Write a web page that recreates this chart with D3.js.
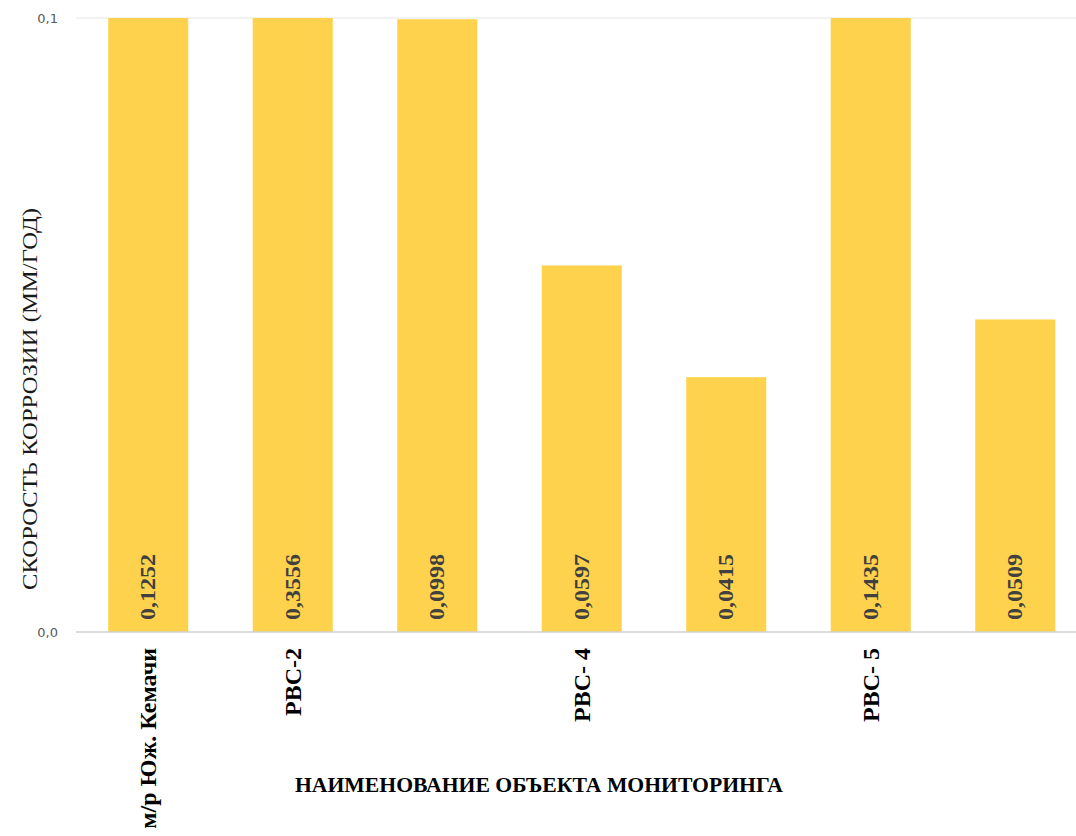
<!DOCTYPE html>
<html lang="ru">
    <head>
        <meta charset="utf-8" />
        <title>Скорость коррозии</title>
        <script src="https://d3js.org/d3.v7.min.js"></script>
        <style>
            html, body { margin:0; padding:0; overflow:hidden; background-color:#ffffff }
            svg { display:block }
        </style>
    </head>
    <body>
        <svg id="svg" width="1076" height="836"></svg>
        <script>

            // data
            let categories = ["м/р Юж. Кемачи", "РВС-2", "", "РВС- 4", "", "РВС- 5", ""];
            let values = [0.1252, 0.3556, 0.0998, 0.0597, 0.0415, 0.1435, 0.0509];
            let valueLabels = ["0,1252", "0,3556", "0,0998", "0,0597", "0,0415", "0,1435", "0,0509"];
            let yTicks = [0, 0.1];
            let yTickLabels = ["0,0", "0,1"];

            let svg = d3.select("svg");
            let plotLeft = 76, plotTop = 18, plotBottom = 632;
            let step = 144.5;

            let x = d3.scaleBand()
                .domain(d3.range(values.length))
                .range([plotLeft, plotLeft + step * values.length])
                .paddingInner(0.446)
                .paddingOuter(0.223);

            let y = d3.scaleLinear()
                .domain([0, 0.1])
                .range([plotBottom, plotTop]);

            svg.append("clipPath").attr("id", "plot")
                .append("rect")
                .attr("x", plotLeft).attr("y", plotTop)
                .attr("width", 1076 - plotLeft).attr("height", plotBottom - plotTop);

            // gridline at top
            svg.append("line")
                .attr("x1", plotLeft).attr("x2", 1076)
                .attr("y1", y(0.1)).attr("y2", y(0.1))
                .attr("stroke", "#e6e6e6").attr("stroke-width", 1);

            // bars
            svg.append("g").attr("clip-path", "url(#plot)")
                .selectAll("rect")
                .data(values)
                .join("rect")
                .attr("x", (d, i) => x(i))
                .attr("width", x.bandwidth())
                .attr("y", d => y(Math.min(d, 0.1)))
                .attr("height", d => plotBottom - y(Math.min(d, 0.1)))
                .attr("fill", "#ffd24d");

            // axis line
            svg.append("line")
                .attr("x1", plotLeft).attr("x2", 1076)
                .attr("y1", plotBottom).attr("y2", plotBottom)
                .attr("stroke", "#d0d0d0").attr("stroke-width", 1.5);

            // y tick labels
            svg.append("g").selectAll("text")
                .data(yTicks)
                .join("text")
                .attr("x", 58)
                .attr("y", d => y(d) + 5)
                .attr("text-anchor", "end")
                .attr("font-family", "DejaVu Sans, sans-serif")
                .attr("font-size", 13)
                .attr("fill", "#595959")
                .text((d, i) => yTickLabels[i]);

            // value labels, rotated at bar base
            svg.append("g").selectAll("text")
                .data(values)
                .join("text")
                .attr("transform", (d, i) => `translate(${x(i) + x.bandwidth() / 2 + 7},${plotBottom - 12}) rotate(-90)`)
                .attr("font-family", "Liberation Serif, serif")
                .attr("font-weight", "bold")
                .attr("font-size", 20)
                .attr("fill", "#404040")
                .attr("textLength", 66)
                .attr("lengthAdjust", "spacingAndGlyphs")
                .text((d, i) => valueLabels[i]);

            // category labels
            svg.append("g").selectAll("text")
                .data(categories)
                .join("text")
                .attr("transform", (d, i) => `translate(${x(i) + x.bandwidth() / 2 + 8},${plotBottom + 16}) rotate(-90)`)
                .attr("text-anchor", "end")
                .attr("font-family", "Liberation Serif, serif")
                .attr("font-weight", "bold")
                .attr("font-size", 24)
                .attr("fill", "#000000")
                .text(d => d);

            // axis titles
            svg.append("text")
                .attr("x", 539).attr("y", 792)
                .attr("text-anchor", "middle")
                .attr("font-family", "Liberation Serif, serif")
                .attr("font-weight", "bold")
                .attr("font-size", 22)
                .attr("textLength", 488)
                .attr("lengthAdjust", "spacingAndGlyphs")
                .attr("fill", "#000000")
                .text("НАИМЕНОВАНИЕ ОБЪЕКТА МОНИТОРИНГА");

            svg.append("text")
                .attr("transform", "translate(37,399) rotate(-90)")
                .attr("text-anchor", "middle")
                .attr("font-family", "Liberation Serif, serif")
                .attr("font-size", 21)
                .attr("textLength", 382)
                .attr("lengthAdjust", "spacingAndGlyphs")
                .attr("fill", "#1a1a1a")
                .text("СКОРОСТЬ КОРРОЗИИ (ММ/ГОД)");

        </script>
    </body>
</html>
